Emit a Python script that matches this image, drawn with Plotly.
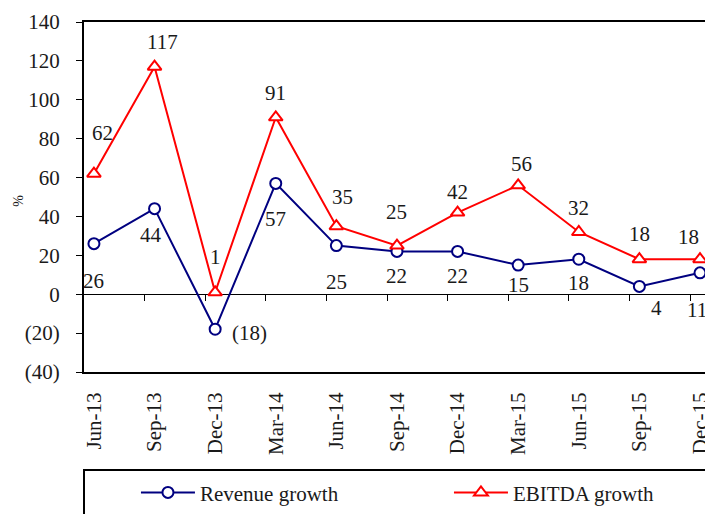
import plotly.graph_objects as go

quarters = ["Jun-13", "Sep-13", "Dec-13", "Mar-14", "Jun-14", "Sep-14",
            "Dec-14", "Mar-15", "Jun-15", "Sep-15", "Dec-15"]
revenue_growth = [26, 44, -18, 57, 25, 22, 22, 15, 18, 4, 11]
ebitda_growth = [62, 117, 1, 91, 35, 25, 42, 56, 32, 18, 18]
y_tick_vals = [140, 120, 100, 80, 60, 40, 20, 0, -20, -40]

# label offsets in pixels (dx, dy; dy positive = down)
rev_label_offsets = [(0, 37), (-4, 26), (34, 4), (0, 36), (0, 36), (0, 25),
                     (0, 25), (0, 20), (0, 24), (17, 22), (-3, 37)]
ebi_label_offsets = [(9, -41), (8, -25), (0, -35), (0, -24), (6, -29), (0, -34),
                     (0, -21), (3, -21), (0, -24), (0, -25), (-12, -22)]

FONT = "Liberation Serif"
FS = 21
TXT = "#1a1a1a"
NAVY = "#000080"
RED = "#ff0000"


def fmt(v):
    return f"({abs(v)})" if v < 0 else f"{v}"


x = list(range(len(quarters)))

fig = go.Figure()
fig.add_trace(go.Scatter(
    x=x, y=revenue_growth, mode="lines+markers", name="Revenue growth",
    line=dict(color=NAVY, width=2),
    marker=dict(symbol="circle", size=11, color="white",
                line=dict(color=NAVY, width=2)),
    legend="legend",
))
fig.add_trace(go.Scatter(
    x=x, y=ebitda_growth, mode="lines+markers", name="EBITDA growth",
    line=dict(color=RED, width=2),
    marker=dict(symbol="triangle-up", size=12, color="white",
                line=dict(color=RED, width=2)),
    legend="legend2",
))

annotations = []
for xi, v, (dx, dy) in zip(x, revenue_growth, rev_label_offsets):
    annotations.append(dict(x=xi, y=v, xref="x", yref="y", text=fmt(v),
                            showarrow=False, xshift=dx, yshift=-dy,
                            xanchor="center", yanchor="middle",
                            font=dict(family=FONT, size=FS, color=TXT)))
for xi, v, (dx, dy) in zip(x, ebitda_growth, ebi_label_offsets):
    annotations.append(dict(x=xi, y=v, xref="x", yref="y", text=fmt(v),
                            showarrow=False, xshift=dx, yshift=-dy,
                            xanchor="center", yanchor="middle",
                            font=dict(family=FONT, size=FS, color=TXT)))
annotations.append(dict(x=-0.105, y=0.49, xref="paper", yref="paper", text="%",
                        textangle=-90, showarrow=False, xanchor="center",
                        yanchor="middle",
                        font=dict(family=FONT, size=14, color=TXT)))

fig.update_layout(
    width=705, height=506,
    margin=dict(l=76, r=1, t=14, b=142),
    paper_bgcolor="white", plot_bgcolor="white",
    font=dict(family=FONT, size=FS, color=TXT),
    showlegend=True,
    annotations=annotations,
    xaxis=dict(
        range=[-0.164, 10.165], tickvals=x, ticktext=quarters, tickangle=-90,
        ticks="", showgrid=False, zeroline=False,
        showline=True, linecolor="black", linewidth=2, mirror=True,
        ticklabelstandoff=10,
        tickfont=dict(family=FONT, size=FS, color=TXT),
    ),
    xaxis2=dict(
        overlaying="x", anchor="free", position=40 / 180, side="bottom",
        range=[-0.164, 10.165],
        tickvals=[i + 0.836 for i in range(10)], ticks="outside", ticklen=6,
        tickwidth=1, tickcolor="black", showticklabels=False,
        showgrid=False, zeroline=False, showline=False,
    ),
    yaxis=dict(
        range=[-40, 140], tickvals=y_tick_vals,
        ticktext=[fmt(v) for v in y_tick_vals],
        ticks="outside", ticklen=6, tickwidth=1, tickcolor="black",
        showgrid=False, zeroline=True, zerolinecolor="black", zerolinewidth=1,
        showline=True, linecolor="black", linewidth=2, mirror=True,
        ticklabelstandoff=12,
        tickfont=dict(family=FONT, size=FS, color=TXT),
    ),
    legend=dict(x=0.083, y=-0.345, xanchor="left", yanchor="middle",
                orientation="h", bgcolor="rgba(0,0,0,0)", itemwidth=54,
                font=dict(family=FONT, size=FS, color=TXT)),
    legend2=dict(x=0.583, y=-0.345, xanchor="left", yanchor="middle",
                 orientation="h", bgcolor="rgba(0,0,0,0)", itemwidth=54,
                 font=dict(family=FONT, size=FS, color=TXT)),
    shapes=[dict(type="rect", xref="paper", yref="paper",
                 x0=0, x1=1.0, y0=-0.6, y1=-0.28,
                 line=dict(color="black", width=2), fillcolor="rgba(0,0,0,0)")],
)

# invisible trace so the zero-line tick axis renders
fig.add_trace(go.Scatter(x=[0], y=[0], xaxis="x2", mode="markers",
                         marker=dict(opacity=0), showlegend=False,
                         hoverinfo="skip"))

fig.write_html("out.html")
